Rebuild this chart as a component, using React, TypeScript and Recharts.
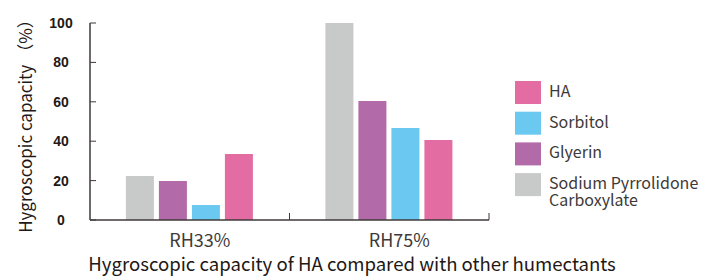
import React from "react";
import { BarChart, Bar, XAxis, YAxis } from "recharts";

const categories = ["RH33%", "RH75%"];
const sodiumValues = [22.3, 100];
const glyerinValues = [19.8, 60.4];
const sorbitolValues = [7.6, 46.7];
const haValues = [33.5, 40.6];
const yTicks = [0, 20, 40, 60, 80, 100];

const series = [
  { key: "sodium", name: "Sodium Pyrrolidone Carboxylate", color: "#c8c9c9" },
  { key: "glyerin", name: "Glyerin", color: "#b36aa8" },
  { key: "sorbitol", name: "Sorbitol", color: "#6bc8f0" },
  { key: "ha", name: "HA", color: "#e36ca2" },
];
const legendOrder = ["ha", "sorbitol", "glyerin", "sodium"];
const legendLines: Record<string, string[]> = {
  ha: ["HA"],
  sorbitol: ["Sorbitol"],
  glyerin: ["Glyerin"],
  sodium: ["Sodium Pyrrolidone", "Carboxylate"],
};

const data = categories.map((c, i) => ({
  name: c,
  sodium: sodiumValues[i],
  glyerin: glyerinValues[i],
  sorbitol: sorbitolValues[i],
  ha: haValues[i],
}));

const W = 713;
const H = 277;
const margin = { top: 23, right: 224, bottom: 0, left: 0 };
const yAxisWidth = 90;
const xAxisHeight = 57;
const bandWidth = (W - margin.left - margin.right - yAxisWidth) / categories.length;
const font = "'Noto Sans CJK SC', 'Noto Sans', sans-serif";
const axisColor = "#3e3a39";

const YTick = (props: any) => {
  const { x, y, payload } = props;
  return (
    <g>
      <line x1={x} x2={x + 6} y1={y} y2={y} stroke={axisColor} strokeWidth={1} />
      <text
        x={x - 29}
        y={y}
        textAnchor="middle"
        dominantBaseline="central"
        fontFamily="'Liberation Sans', Arial, sans-serif"
        fontWeight="bold"
        fontSize={14}
        fill="#231815"
      >
        {payload.value}
      </text>
    </g>
  );
};

const XTick = (props: any) => {
  const { x, y, payload } = props;
  const edge = x + bandWidth / 2;
  return (
    <g>
      <line x1={edge} x2={edge} y1={y - 7} y2={y} stroke={axisColor} strokeWidth={1} />
      <text x={x + 10} y={y + 27} textAnchor="middle" fontFamily={font} fontSize={18} fill="#3e3a39">
        {payload.value}
      </text>
    </g>
  );
};

// legend drawn as its own svg, placed to the right of the plot
const LegendBox = () => (
  <svg width={190} height={150} style={{ position: "absolute", left: 515, top: 71 }}>
    {legendOrder.map((k, i) => {
      const s = series.find((d) => d.key === k)!;
      const top = 10 + i * 30.7;
      return (
        <g key={k}>
          <rect x={0} y={top} width={26} height={23} fill={s.color} />
          {legendLines[k].map((line, j) => (
            <text key={j} x={34} y={top + 16 + j * 16.7} fontFamily={font} fontSize={16} fill="#3e3a39">
              {line}
            </text>
          ))}
        </g>
      );
    })}
  </svg>
);

export default function App() {
  return (
    <div style={{ position: "absolute", left: 0, top: 0, width: W, height: H, background: "#fff" }}>
      <BarChart width={W} height={H} data={data} margin={margin} barCategoryGap="18%" barGap={5}>
        <XAxis
          dataKey="name"
          height={xAxisHeight}
          tickSize={0}
          tickMargin={0}
          tickLine={false}
          tick={<XTick />}
          axisLine={{ stroke: axisColor, strokeWidth: 1.5 }}
          label={{
            content: () => (
              <text x={352} y={271} textAnchor="middle" fontFamily={font} fontSize={18.6} fill="#231815">
                Hygroscopic capacity of HA compared with other humectants
              </text>
            ),
          }}
        />
        <YAxis
          width={yAxisWidth}
          domain={[0, 100]}
          ticks={yTicks}
          tickSize={0}
          tickMargin={0}
          tickLine={false}
          tick={<YTick />}
          axisLine={{ stroke: axisColor, strokeWidth: 1.5 }}
          label={{
            content: () => (
              <text
                x={24}
                y={122}
                transform="rotate(-90, 24, 122)"
                textAnchor="middle"
                dominantBaseline="central"
                fontFamily={font}
                fontSize={17}
                fill="#231815"
              >
                Hygroscopic capacity （%）
              </text>
            ),
          }}
        />
        {series.map((s) => (
          <Bar key={s.key} dataKey={s.key} name={s.name} fill={s.color} isAnimationActive={false} />
        ))}
      </BarChart>
      <LegendBox />
    </div>
  );
}
